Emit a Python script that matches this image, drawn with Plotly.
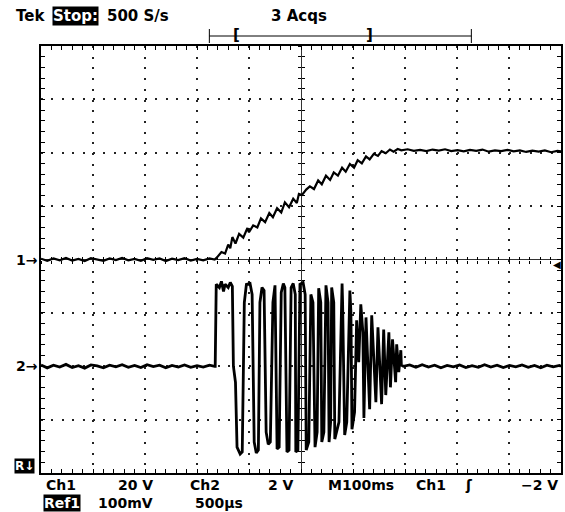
import plotly.graph_objects as go

ch1_time_ms = [-500, -488, -476, -464, -452, -440, -428, -416, -404, -392, -380, -368, -356, -344,
               -332, -320, -308, -296, -284, -272, -260, -248, -236, -224, -212, -200, -188, -176, -166,
               -161, -153, -146, -140, -136, -132, -126, -119, -111, -103, -100, -92, -84, -77, -69,
               -61, -54, -46, -38, -31, -23, -15, -8, -4, 2, 10, 17, 25, 33, 40, 48, 56, 63, 71, 79,
               86, 94, 102, 109, 117, 125, 132, 140, 148, 155, 163, 171, 178, 186, 193,
               205, 217, 229, 241, 253, 265, 277, 289, 301, 313, 325, 337, 349, 361, 373, 385, 397,
               409, 421, 433, 445, 457, 469, 481, 493, 500]
ch1_volts = [0.3, -0.5, 0.4, -0.3, 0.6, -0.4, 0.2, -0.6, 0.5, 0.1, -0.5, 0.4, -0.2, 0.6,
             -0.3, 0.2, -0.5, 0.5, -0.1, 0.4, -0.6, 0.3, -0.2, 0.5, -0.4, 0.2, -0.3, 0.4, 0.0,
             0.9, 2.8, 2.2, 5.6, 4.2, 8.4, 6.0, 9.6, 8.2, 11.8, 10.2, 12.8, 12.0, 15.4, 14.0,
             17.4, 15.8, 19.2, 17.6, 21.4, 19.6, 22.8, 21.2, 24.6, 24.2, 26.2, 27.4, 26.4, 29.6, 28.2,
             31.4, 29.8, 32.6, 31.4, 34.4, 32.9, 35.8, 34.4, 37.2, 36.0, 38.6, 37.5, 39.6, 38.8, 40.6,
             39.8, 41.2, 40.4, 41.4, 40.9,
             41.3, 40.7, 41.1, 40.6, 41.2, 40.8, 41.3, 40.6, 41.0, 40.5, 41.1, 40.7, 41.2, 40.4, 40.9,
             40.6, 41.1, 40.5, 40.9, 40.3, 40.8, 40.4, 40.9, 40.2, 40.7, 40.5]

ch2_time_ms = [-500, -488, -476, -464, -452, -440, -428, -416, -404, -392, -380, -368, -356, -344,
               -332, -320, -308, -296, -284, -272, -260, -248, -236, -224, -212, -200, -188, -176, -166,
               -165, -163, -157, -153, -149, -146, -140, -136, -132, -130, -126, -123, -117, -113,
               -109, -105, -98, -94, -90, -86, -82, -79, -75, -71, -67, -63, -59, -54, -50, -46, -42,
               -38, -34, -31, -27, -23, -19, -15, -11, -10, -6, -2, 4, 8, 10, 15, 19, 23, 27, 31, 34,
               38, 40, 44, 48, 52, 54, 57, 59, 63, 65, 73, 79, 80, 84, 88, 94, 96, 98, 103, 107, 111,
               115, 119, 121, 125, 128, 132, 136, 140, 144, 148, 151, 155, 159, 163, 169, 172, 176,
               182, 184, 188, 192, 193, 197,
               209, 221, 233, 245, 257, 269, 281, 293, 305, 317, 329, 341, 353, 365, 377, 389, 401,
               413, 425, 437, 449, 461, 473, 485, 497, 500]
ch2_volts = [0.05, -0.06, 0.04, -0.03, 0.07, -0.05, 0.02, -0.07, 0.05, 0.01, -0.06, 0.04, -0.02, 0.06,
             -0.04, 0.03, -0.05, 0.06, -0.01, 0.04, -0.06, 0.03, -0.03, 0.05, -0.04, 0.02, -0.03, 0.04, 0.0,
             0.0, 3.07, 2.95, 3.18, 2.80, 3.07, 2.95, 3.14, 2.99, 0.0, -0.60, -3.03, -3.29, -3.21,
             2.39, 3.07, 3.10, 2.69, -2.84, -3.25, -3.14, 2.39, 2.95, 2.84, -2.47, -2.92, -2.84, 2.39,
             3.03, -3.10, -3.03, 2.77, 3.10, 2.95, -3.21, -3.14, 2.95, 3.10, 2.69, -3.21, -3.14, 3.07,
             3.14, 2.69, -3.14, -2.84, 2.69, 2.39, -3.03, -2.47, 2.92, 2.39, -2.84, -2.47, 3.03, 2.39,
             -2.84, -2.09, 2.95, 2.39, -2.73, -2.09, 3.10, 2.39, -2.58, -2.09, 2.84, 2.02, -2.36, -1.72,
             1.72, 0.15, 2.32, 1.27, -1.94, 1.83, 0.15, -1.61, 1.91, 0.15, -1.35, 1.46, -0.04, -1.42,
             1.38, -1.08, 1.27, -0.79, 1.01, -0.60, 0.82, -0.22, 0.60, 0.04, 0.0,
             0.05, -0.04, 0.06, -0.03, 0.04, -0.06, 0.03, -0.02, 0.05, -0.05, 0.02, -0.04, 0.06, -0.03,
             0.04, -0.05, 0.03, -0.02, 0.05, -0.04, 0.03, -0.06, 0.04, -0.02, 0.03, 0.0]

ch1_volts_per_div = 20
ch2_volts_per_div = 2
ch1_offset_div = 0
ch2_offset_div = -2
time_per_div_ms = 100
trigger_level_v = -2

ch1_div = [ch1_offset_div + v / ch1_volts_per_div for v in ch1_volts]
ch2_div = [ch2_offset_div + v / ch2_volts_per_div for v in ch2_volts]

# ---------------- geometry ----------------
W, H = 565, 512
ML, MR, MT, MB = 41, 2, 46, 39
PW, PH = W - ML - MR, H - MT - MB
XR = [-5 * time_per_div_ms, 5 * time_per_div_ms]
YR = [-4, 4]


def px(x):
    return (x - ML) / PW


def py(y):
    return (H - MB - y) / PH


FONT = "DejaVu Sans"
INK = "black"

fig = go.Figure()
fig.add_trace(go.Scatter(x=ch1_time_ms, y=ch1_div, mode="lines",
                         line=dict(color=INK, width=2.2), hoverinfo="skip"))
fig.add_trace(go.Scatter(x=ch2_time_ms, y=ch2_div, mode="lines",
                         line=dict(color=INK, width=2.8), hoverinfo="skip"))
# carriers for the centre-cross tick axes
fig.add_trace(go.Scatter(x=[None], y=[None], xaxis="x2", yaxis="y2", hoverinfo="skip"))
fig.add_trace(go.Scatter(x=[None], y=[None], xaxis="x3", yaxis="y3", hoverinfo="skip"))

frame_axis = dict(showline=True, linewidth=2, linecolor=INK, mirror="allticks",
                  ticks="inside", ticklen=4, tickwidth=1, tickcolor=INK,
                  showticklabels=False, showgrid=True, gridcolor="#222", gridwidth=2,
                  zeroline=True, zerolinecolor="#333", zerolinewidth=1, fixedrange=True)

fig.update_layout(
    width=W, height=H, margin=dict(l=ML, r=MR, t=MT, b=MB),
    paper_bgcolor="white", plot_bgcolor="white", showlegend=False,
    xaxis=dict(frame_axis, range=XR, dtick=time_per_div_ms, tick0=0, griddash="2px,8.7px",
               minor=dict(dtick=time_per_div_ms / 5, ticklen=4, ticks="inside", tickcolor=INK)),
    yaxis=dict(frame_axis, range=YR, dtick=1, tick0=0, griddash="2px,8.4px",
               minor=dict(dtick=0.2, ticklen=4, ticks="inside", tickcolor=INK)),
)

center_common = dict(showline=False, showgrid=False, zeroline=False, showticklabels=False,
                     ticklen=3, tickwidth=1, tickcolor=INK, fixedrange=True)
for suf, tk in (("2", "outside"), ("3", "inside")):
    fig.update_layout(**{
        "xaxis" + suf: dict(center_common, overlaying="x", anchor="free", position=0.5, range=XR,
                            dtick=time_per_div_ms, tick0=0, ticks=tk,
                            minor=dict(dtick=time_per_div_ms / 5, ticklen=3, ticks=tk, tickcolor=INK)),
        "yaxis" + suf: dict(center_common, overlaying="y", anchor="free", position=0.5, range=YR,
                            dtick=1, tick0=0, ticks=tk,
                            minor=dict(dtick=0.2, ticklen=3, ticks=tk, tickcolor=INK)),
    })

ann = []


def label(text, xpix, ypix, size=15, anchor="left", inverse=False, yref="paper", yval=None):
    ann.append(dict(text=text, x=px(xpix), xref="paper",
                    y=py(ypix) if yval is None else yval, yref=yref,
                    xanchor=anchor, yanchor="middle", showarrow=False,
                    font=dict(family=FONT, size=size, color="white" if inverse else INK, weight="bold"),
                    bgcolor=INK if inverse else None, borderpad=0))


# top status line
label("Tek", 15, 16)
label("Stop:", 52, 16, inverse=True)
label("500 S/s", 106, 16)
label("3 Acqs", 271, 16)
label("[", 233, 35, size=15)
label("]", 366, 35, size=15)
# bottom readouts
label("Ch1", 45, 485, size=14)
label("20 V", 117, 485, size=14)
label("Ch2", 190, 485, size=14)
label("2 V", 268, 485, size=14)
label("M100ms", 328, 485, size=14)
label("Ch1", 416, 485, size=14)
label("ʃ", 466, 485, size=14)
label("\u22122 V", 522, 485, size=14)
label("Ref1", 43, 503, size=14, inverse=True)
label("100mV", 97, 503, size=14)
label("500µs", 195, 503, size=14)
label("R↓", 14, 466, size=12, inverse=True)
# channel ground markers
label("1→", 39, 0, size=14, anchor="right", yref="y", yval=ch1_offset_div)
label("2→", 39, 0, size=14, anchor="right", yref="y", yval=ch2_offset_div)
# trigger level marker
label("◀", 564, 0, size=10, anchor="right", yref="y",
      yval=ch1_offset_div + trigger_level_v / ch1_volts_per_div)
fig.update_layout(annotations=ann)

# record-view bar above the graticule
bar_y = py(36)
shapes = [
    dict(type="line", xref="paper", yref="paper", x0=px(210), x1=px(473), y0=bar_y, y1=bar_y,
         line=dict(color=INK, width=1)),
    dict(type="line", xref="paper", yref="paper", x0=px(210), x1=px(210), y0=py(29), y1=py(43),
         line=dict(color=INK, width=1)),
    dict(type="line", xref="paper", yref="paper", x0=px(473), x1=px(473), y0=py(29), y1=py(43),
         line=dict(color=INK, width=1)),
]
fig.update_layout(shapes=shapes)

fig.write_html("out.html", config={"displayModeBar": False},
               post_script="document.body.style.margin='0';document.body.style.overflow='hidden';")
